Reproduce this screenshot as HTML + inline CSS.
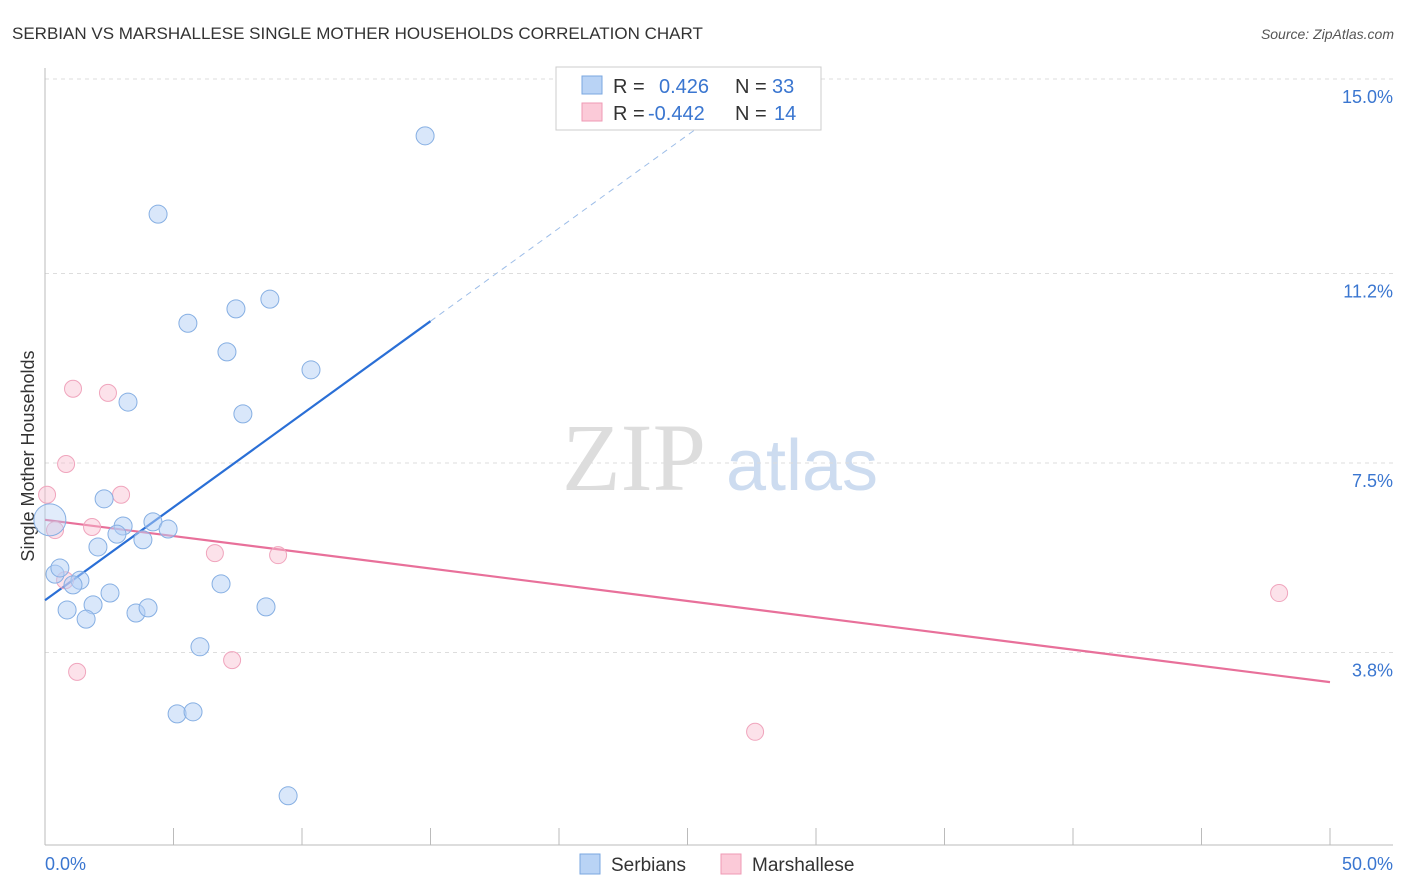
<!DOCTYPE html>
<html><head><meta charset="utf-8">
<style>
body{margin:0;background:#fff;font-family:"Liberation Sans",sans-serif;}
#c{position:absolute;left:0;top:0;}
</style></head>
<body>
<svg id="c" width="1406" height="892" xmlns="http://www.w3.org/2000/svg">
<text x="12" y="39" font-size="17" fill="#333">SERBIAN VS MARSHALLESE SINGLE MOTHER HOUSEHOLDS CORRELATION CHART</text>
<text x="1394" y="39" font-size="14" fill="#555" font-style="italic" text-anchor="end">Source: ZipAtlas.com</text>
<text x="0" y="0" transform="translate(34,456) rotate(-90)" font-size="18" fill="#333" text-anchor="middle">Single Mother Households</text>
<g>
<text x="634" y="490" font-size="96" fill="#ddd" font-family="Liberation Serif,serif" text-anchor="middle">ZIP</text>
<text x="802" y="490" font-size="72" fill="#cddcf0" text-anchor="middle">atlas</text>
</g>
<g id="grid"></g>
<g id="axes"></g>
<g id="lines"></g>
<g id="pts"></g>
<g>
<rect x="556" y="67" width="265" height="63" fill="#fff" stroke="#ccc"/>
<rect x="582" y="76" width="20" height="18" fill="#b9d3f5" stroke="#7aa7e0"/>
<rect x="582" y="103" width="20" height="18" fill="#fbcad8" stroke="#ef9ab4"/>
<text x="613" y="93" font-size="20" fill="#333">R = </text><text x="659" y="93" font-size="20" fill="#3a76d0">0.426</text>
<text x="735" y="93" font-size="20" fill="#333">N = </text><text x="772" y="93" font-size="20" fill="#3a76d0">33</text>
<text x="613" y="120" font-size="20" fill="#333">R = </text><text x="648" y="120" font-size="20" fill="#3a76d0">-0.442</text>
<text x="735" y="120" font-size="20" fill="#333">N = </text><text x="774" y="120" font-size="20" fill="#3a76d0">14</text>
</g>
<g>
<rect x="580" y="854" width="20" height="20" fill="#b9d3f5" stroke="#7aa7e0"/>
<text x="611" y="871" font-size="19" fill="#333">Serbians</text>
<rect x="721" y="854" width="20" height="20" fill="#fbcad8" stroke="#ef9ab4"/>
<text x="752" y="871" font-size="19" fill="#333">Marshallese</text>
</g>
</svg>
<script>
const yTicks=[15.0,11.2,7.5,3.8];
const yTickLabels=["15.0%","11.2%","7.5%","3.8%"];
const xTickLabels=["0.0%","50.0%"];
const serbX=[14.79,4.40,5.56,7.43,8.75,7.08,10.35,3.23,7.70,2.30,4.20,3.04,2.80,4.79,3.81,2.06,0.39,0.58,1.36,1.09,6.85,2.53,0.86,1.87,1.60,3.54,4.01,8.60,6.03,5.14,5.76,9.46,0.19];
const serbY=[13.89,12.36,10.23,10.51,10.70,9.67,9.32,8.69,8.46,6.80,6.35,6.27,6.11,6.21,6.00,5.86,5.33,5.45,5.21,5.12,5.14,4.96,4.63,4.73,4.45,4.57,4.67,4.69,3.91,2.60,2.64,1.00,6.39];
const serbR=[9,9,9,9,9,9,9,9,9,9,9,9,9,9,9,9,9,9,9,9,9,9,9,9,9,9,9,9,9,9,9,9,16];
const marX=[1.09,2.45,0.82,2.96,0.08,1.83,0.39,6.61,9.07,0.78,7.28,1.25,48.02,27.63];
const marY=[8.95,8.87,7.48,6.88,6.88,6.25,6.19,5.74,5.70,5.21,3.65,3.42,4.96,2.25];
const serbTrend=[4.82,10.27]; // y at x=0 and x=15
const marTrend=[6.39,3.22];   // y at x=0 and x=50
const NS="http://www.w3.org/2000/svg";
const X=v=>45+v*25.7, Y=v=>847-v*51.2;
function mk(t,a,p){const e=document.createElementNS(NS,t);for(const k in a)e.setAttribute(k,a[k]);p.appendChild(e);return e;}
const grid=document.getElementById('grid'),axes=document.getElementById('axes'),lines=document.getElementById('lines'),pts=document.getElementById('pts');
yTicks.forEach((t,i)=>{
 const gy=t===15?79:Y(t);
 const l=mk('line',{x1:45,x2:1393,y1:gy,y2:gy,stroke:'#ddd','stroke-dasharray':'4,4'},grid);
 
 
 const tx=mk('text',{x:1393,y:gy+24,'font-size':18,fill:'#3a76d0','text-anchor':'end'},grid);
 tx.textContent=yTickLabels[i];
 
 
});
mk('line',{x1:45,x2:45,y1:68,y2:845,stroke:'#bbb'},axes);
mk('line',{x1:45,x2:1393,y1:845,y2:845,stroke:'#bbb'},axes);
for(let i=0;i<=10;i++){const t=mk('line',{x1:X(i*5),x2:X(i*5),y1:828,y2:845,stroke:'#bbb'},axes);
 
 }
[[0,'start',45],[50,'end',1393]].forEach((d,i)=>{const t=mk('text',{x:d[2],y:870,'font-size':18,fill:'#3a76d0','text-anchor':d[1]},axes);t.textContent=xTickLabels[i];
 
 });
const sl=(serbTrend[1]-serbTrend[0])/15;
const bl=mk('line',{x1:X(0),y1:Y(serbTrend[0]),x2:X(15),y2:Y(serbTrend[1]),stroke:'#2a6fd6','stroke-width':2.2},lines);


const xe=(14.7-serbTrend[0])/sl;
const bd=mk('line',{x1:X(15),y1:Y(serbTrend[1]),x2:X(xe),y2:Y(14.7),stroke:'#9dbde8','stroke-width':1,'stroke-dasharray':'6,5'},lines);


const pl=mk('line',{x1:X(0),y1:Y(marTrend[0]),x2:X(50),y2:Y(marTrend[1]),stroke:'#e8709a','stroke-width':2.2},lines);


marX.forEach((x,i)=>{const c=mk('circle',{cx:X(x),cy:Y(marY[i]),r:8.5,fill:'rgba(248,190,208,0.45)',stroke:'#f0a5bd'},pts);
 
 });
serbX.forEach((x,i)=>{const c=mk('circle',{cx:X(x),cy:Y(serbY[i]),r:serbR[i],fill:serbR[i]>10?'rgba(180,208,245,0.4)':'rgba(180,208,245,0.5)',stroke:'#86afe3'},pts);
 
 });
</script>
</body></html>
